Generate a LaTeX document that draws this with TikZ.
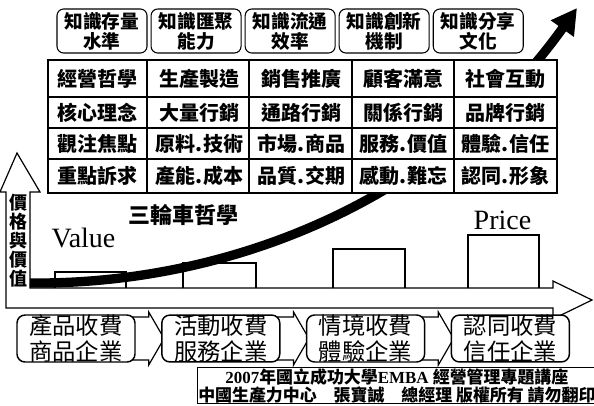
\documentclass[tikz,border=0pt]{standalone}
\usepackage{fontspec}
\setmainfont{Liberation Serif}
\newfontfamily\cjk{Noto Sans CJK TC}
\usetikzlibrary{arrows.meta,positioning,backgrounds}

\begin{document}
\begin{tikzpicture}[x=0.75pt,y=-0.75pt,
	kbox/.style={draw, rectangle, rounded corners=5pt, line width=0.8pt, fill=white, minimum width=67.5pt, minimum height=33pt, inner sep=0pt, align=center, font=\cjk\bfseries\fontsize{14}{15}\selectfont},
	cell/.style={inner sep=0pt, font=\cjk\bfseries\fontsize{15}{15}\selectfont},
	stage/.style={draw, rectangle, rounded corners=6pt, line width=1.1pt, fill=white, minimum width=88.5pt, minimum height=35pt, inner sep=0pt, align=center, font=\cjk\fontsize{17.5}{19}\selectfont},
	chev/.style={draw, line width=0.9pt, fill=white},
	bar/.style={draw, line width=1.9pt},
	big/.style={font=\fontsize{21}{21}\selectfont}
]
\useasboundingbox (0,0) rectangle (594,405);

% price/value axes
\draw[line width=0.9pt, fill=white] (6,308) -- (553,308) -- (553,319) -- (592,300) -- (553,281) -- (553,288) -- (30,288) -- (30,192) -- (40,192) -- (17,153) -- (0,192) -- (6,192) -- cycle;
\node (axis) [align=center, inner sep=0pt, font=\cjk\bfseries\fontsize{13.5}{14.25}\selectfont] at (18,241) {價\\格\\與\\價\\值};

% bars
\foreach \l/\r/\t in {55/126/272,183/256/263,333/405/249,468/539/235}
	\draw[bar] (\l,288) |- (\r,\t) -- (\r,288);

% curve
\coordinate (cs) at (30,283);
\coordinate (ce) at (577,8);
\draw[line width=7pt, -{Triangle[length=19pt,width=20pt]}] (cs) .. controls (230,285) and (440,200) .. (ce);

% table
\draw[line width=2pt, fill=white] (48,60) rectangle (557,193);
\foreach \x in {147,249,352,454} \draw[line width=1.5pt] (\x,60) -- (\x,193);
\foreach \y in {97,128,159} \draw[line width=1.5pt] (48,\y) -- (557,\y);
\foreach \row/\yc [count=\j] in {{經營哲學,生產製造,銷售推廣,顧客滿意,社會互動}/78.5,
		{核心理念,大量行銷,通路行銷,關係行銷,品牌行銷}/112.5,
		{觀注焦點,原料.技術,市場.商品,服務.價值,體驗.信任}/143.5,
		{重點訴求,產能.成本,品質.交期,感動.難忘,認同.形象}/176}
	\foreach \t [count=\i] in \row
		\node (c\j-\i) [cell] at ({97.5+102*(\i-1)},\yc) {\t};

% knowledge
\node (k1) [kbox] at (102,31) {知識存量\\水準};
\node (k2) [kbox, right=2.25pt of k1] {知識匯聚\\能力};
\node (k3) [kbox, right=2.25pt of k2] {知識流通\\效率};
\node (k4) [kbox, right=2.25pt of k3] {知識創新\\機制};
\node (k5) [kbox, right=2.25pt of k4] {知識分享\\文化};

% labels
\node (tri) [font=\cjk\bfseries\fontsize{16.5}{16.5}\selectfont] at (183,215) {三輪車哲學};
\node (val) [big, anchor=base] at (83.5,247) {Value};
\node (pri) [big, anchor=base] at (502.5,229) {Price};

% stages
\node (s1) [stage] at (76,338.5) {產品收費\\商品企業};
\node (s2) [stage, right=19pt of s1] {活動收費\\服務企業};
\node (s3) [stage, right=19pt of s2] {情境收費\\體驗企業};
\node (s4) [stage, right=19pt of s3] {認同收費\\信任企業};

% Arrows
\begin{scope}[on background layer]
\foreach \a/\b in {s1/s2,s2/s3,s3/s4}
	\draw[chev] ([shift={(-3,-21.5)}]\a.east) -- ++(16,0) -- ++(0,-5) -- ([xshift=2.25pt]\b.west) -- ([shift={(13,26.5)}]\a.east) -- ++(0,-5) -- ++(-16,0) -- cycle;
\end{scope}

% footer
\node (foot) [draw, line width=0.8pt, anchor=north west, minimum width=299pt, minimum height=27pt, inner sep=0pt, align=center, font=\bfseries\fontsize{12.7}{13.5}\selectfont] at (197,367) {2007{\cjk 年國立成功大學}EMBA {\cjk 經營管理專題講座}\\{\cjk 中國生產力中心\quad 張寶誠\quad 總經理 版權所有 請勿翻印}};
\end{tikzpicture}
\end{document}
